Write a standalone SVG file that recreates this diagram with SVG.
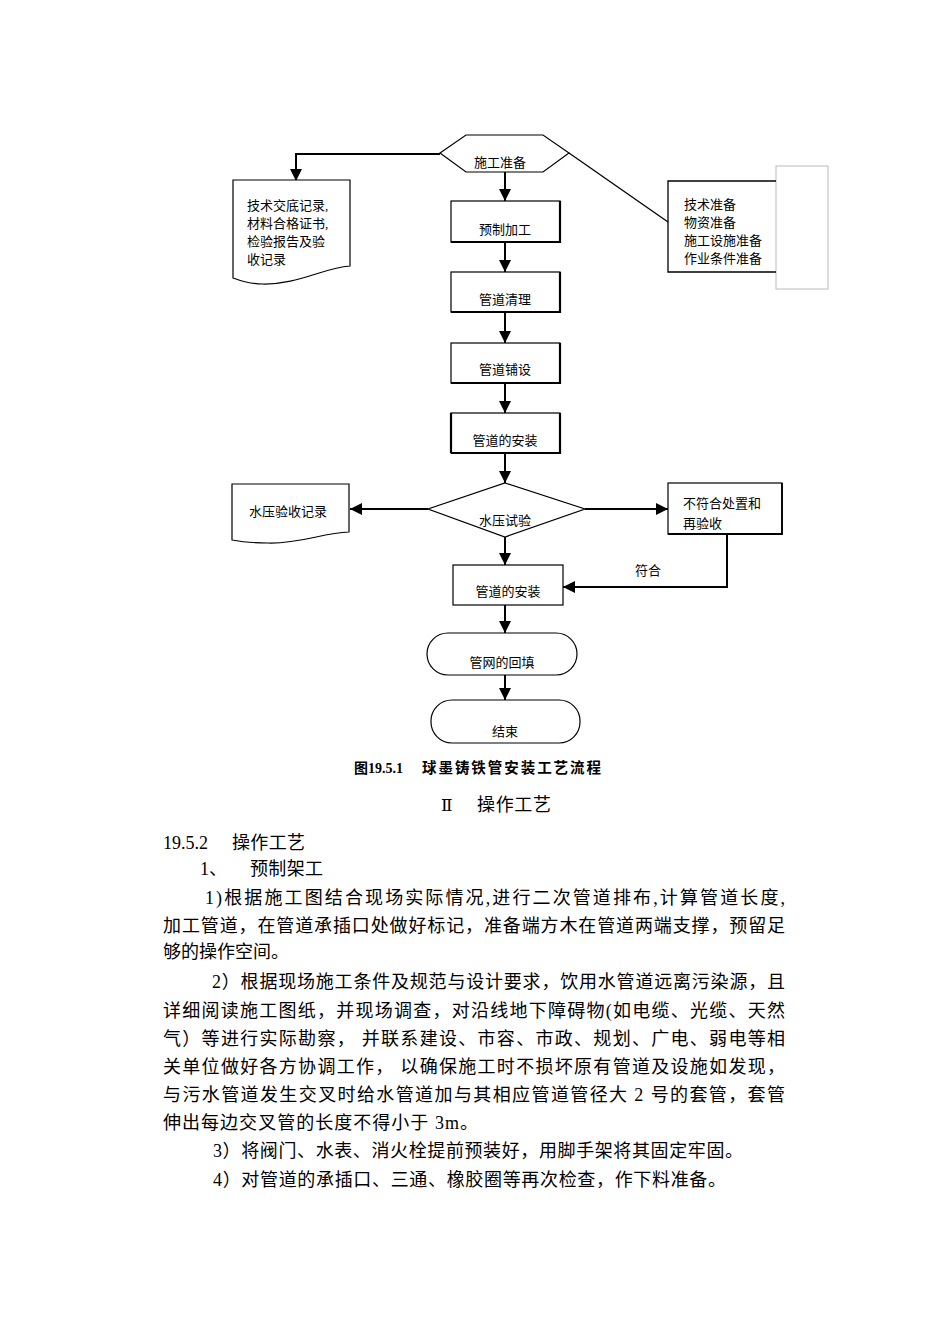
<svg xmlns="http://www.w3.org/2000/svg" width="950" height="1343" viewBox="0 0 950 1343">
<style>
.s{fill:#fff;stroke:#000;stroke-width:1.2}
.sh{fill:none;stroke:#000;stroke-width:2.2}
.t{font-family:"Liberation Serif","Noto Sans CJK SC",serif;font-size:13px;fill:#000}
.c{text-anchor:middle}
.b{font-family:"Liberation Serif","Noto Sans CJK SC",serif;font-size:18px;fill:#000}
.cn{fill:none;stroke:#000;stroke-width:2}
</style>
<defs>
<marker id="ar" markerUnits="userSpaceOnUse" markerWidth="12" markerHeight="12" refX="12" refY="6" orient="auto">
<path d="M0,0 L12,6 L0,12 Z" fill="#000"/>
</marker>
</defs>
<rect width="950" height="1343" fill="#fff"/>
<g id="connectors">
<path class="cn" d="M440,154 H296 V181" marker-end="url(#ar)"/>
<path class="cn" d="M505,172 V201" marker-end="url(#ar)"/>
<path class="cn" d="M505,242 V272" marker-end="url(#ar)"/>
<path class="cn" d="M505,312 V343" marker-end="url(#ar)"/>
<path class="cn" d="M505,383 V413" marker-end="url(#ar)"/>
<path class="cn" d="M505,453 V483" marker-end="url(#ar)"/>
<path class="cn" d="M428,509 H350" marker-end="url(#ar)"/>
<path class="cn" d="M585,509 H668" marker-end="url(#ar)"/>
<path class="cn" d="M505,537 V565" marker-end="url(#ar)"/>
<path class="cn" d="M727,534 V587 H563" marker-end="url(#ar)"/>
<path class="cn" d="M505,605 V633" marker-end="url(#ar)"/>
<path class="cn" d="M505,675 V700" marker-end="url(#ar)"/>
<path fill="none" stroke="#000" stroke-width="1.3" d="M569,153 L668,222"/>
<text class="t c" x="648" y="575">符合</text>
</g>
<g id="n-start">
<polygon class="s" points="440,153 466,135 543,135 569,153 543,172 466,172"/>
<text class="t c" x="500" y="167" font-size="12">施工准备</text>
</g>
<g id="n-doc1">
<path class="s" d="M233,180 H350 V266 C322,268 298,285 262,284 C250,284 241,281 233,278 Z"/>
<text class="t" x="247" y="210">技术交底记录,</text>
<text class="t" x="247" y="228">材料合格证书,</text>
<text class="t" x="247" y="246">检验报告及验</text>
<text class="t" x="247" y="264">收记录</text>
</g>
<g id="n-prep">
<rect x="776" y="166" width="52" height="123" fill="none" stroke="#bbb" stroke-width="1"/>
<path fill="none" stroke="#000" stroke-width="1.3" d="M776,181 H668 V272 H776"/>
<text class="t" x="684" y="209">技术准备</text>
<text class="t" x="684" y="227">物资准备</text>
<text class="t" x="684" y="245">施工设施准备</text>
<text class="t" x="684" y="263">作业条件准备</text>
</g>
<g id="n-prefab">
<rect class="s" x="451" y="201" width="109" height="41"/>
<path class="sh" d="M560,201 V242 H451"/>
<text class="t c" x="505" y="234">预制加工</text>
</g>
<g id="n-clean">
<rect class="s" x="451" y="272" width="109" height="40"/>
<path class="sh" d="M560,272 V312 H451"/>
<text class="t c" x="505" y="304">管道清理</text>
</g>
<g id="n-lay">
<rect class="s" x="451" y="343" width="109" height="40"/>
<path class="sh" d="M560,343 V383 H451"/>
<text class="t c" x="505" y="374">管道铺设</text>
</g>
<g id="n-install1">
<rect class="s" x="451" y="413" width="109" height="40"/>
<path class="sh" d="M451,413 V453 M560,413 V453 H451"/>
<text class="t c" x="505" y="445">管道的安装</text>
</g>
<g id="n-test">
<polygon class="s" points="505,483 585,509 505,537 428,509"/>
<text class="t c" x="505" y="525">水压试验</text>
</g>
<g id="n-doc2">
<path class="s" d="M232,484 H349 V532 C322,533 300,544 268,543 C254,543 242,542 232,540 Z"/>
<text class="t c" x="288" y="516">水压验收记录</text>
</g>
<g id="n-redo">
<rect class="s" x="668" y="483" width="114" height="51"/>
<path fill="none" stroke="#000" stroke-width="1.8" d="M782,483 V534 H668"/>
<text class="t" x="683" y="508">不符合处置和</text>
<text class="t" x="683" y="528">再验收</text>
</g>
<g id="n-install2">
<rect class="s" x="453" y="565" width="110" height="40"/>
<text class="t c" x="508" y="596">管道的安装</text>
</g>
<g id="n-backfill">
<rect class="s" x="427" y="633" width="150" height="42" rx="21" ry="21"/>
<text class="t c" x="502" y="667">管网的回填</text>
</g>
<g id="n-end">
<rect class="s" x="431" y="700" width="149" height="43" rx="21" ry="21"/>
<text class="t c" x="505" y="736">结束</text>
</g>
<g id="caption">
<text x="403" y="773" text-anchor="end" font-family="Liberation Serif,'Noto Sans CJK SC',serif" font-size="14" font-weight="bold">图19.5.1</text>
<text x="422" y="773" font-family="Liberation Serif,'Noto Sans CJK SC',serif" font-size="14.5" font-weight="bold" textLength="179" lengthAdjust="spacing">球墨铸铁管安装工艺流程</text>
<text x="441" y="811" font-family="DejaVu Serif,Liberation Serif,serif" font-size="17">Ⅱ</text>
<text x="477" y="811" font-family="Liberation Serif,'Noto Sans CJK SC',serif" font-size="18" textLength="74" lengthAdjust="spacing">操作工艺</text>
</g>
<g id="body">
<text class="b" x="163" y="849">19.5.2</text>
<text class="b" x="232" y="849" textLength="73" lengthAdjust="spacing">操作工艺</text>
<text class="b" x="200" y="875">1、</text>
<text class="b" x="250" y="875" textLength="73" lengthAdjust="spacing">预制架工</text>
<text class="b" x="205" y="904" textLength="580" lengthAdjust="spacing">1)根据施工图结合现场实际情况,进行二次管道排布,计算管道长度,</text>
<text class="b" x="163" y="932" textLength="622" lengthAdjust="spacing">加工管道，在管道承插口处做好标记，准备端方木在管道两端支撑，预留足</text>
<text class="b" x="163" y="958">够的操作空间。</text>
<text class="b" x="212" y="988" textLength="573" lengthAdjust="spacing">2）根据现场施工条件及规范与设计要求，饮用水管道远离污染源，且</text>
<text class="b" x="163" y="1017" textLength="622" lengthAdjust="spacing">详细阅读施工图纸，并现场调查，对沿线地下障碍物(如电缆、光缆、天然</text>
<text class="b" x="163" y="1045" textLength="622" lengthAdjust="spacing">气）等进行实际勘察，  并联系建设、市容、市政、规划、广电、弱电等相</text>
<text class="b" x="163" y="1073" textLength="622" lengthAdjust="spacing">关单位做好各方协调工作，  以确保施工时不损坏原有管道及设施如发现，</text>
<text class="b" x="163" y="1101" textLength="622" lengthAdjust="spacing">与污水管道发生交叉时给水管道加与其相应管道管径大  2  号的套管，套管</text>
<text class="b" x="163" y="1129" textLength="315" lengthAdjust="spacing">伸出每边交叉管的长度不得小于  3m。</text>
<text class="b" x="213" y="1157" textLength="530" lengthAdjust="spacing">3）将阀门、水表、消火栓提前预装好，用脚手架将其固定牢固。</text>
<text class="b" x="213" y="1186" textLength="513" lengthAdjust="spacing">4）对管道的承插口、三通、橡胶圈等再次检查，作下料准备。</text>
</g>
</svg>
